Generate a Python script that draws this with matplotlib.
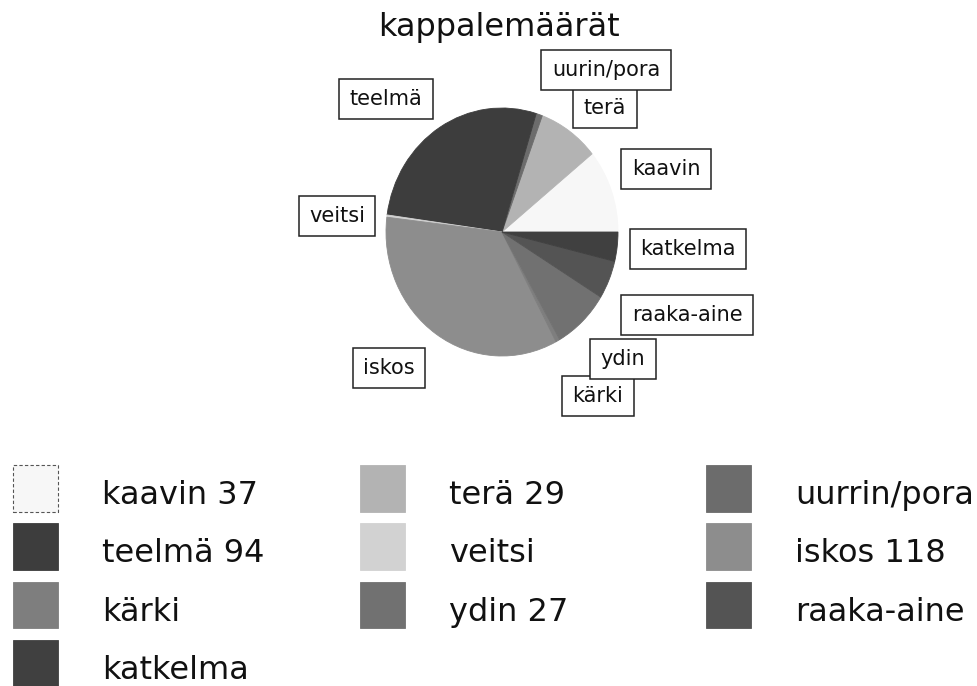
import matplotlib
matplotlib.use("Agg")
import matplotlib.pyplot as plt

# data: artefact counts, pie order counterclockwise from 3 o'clock
names = ["kaavin", "terä", "uurrin/pora", "teelmä", "veitsi",
         "iskos", "kärki", "ydin", "raaka-aine", "katkelma"]
counts = [37, 29, 3, 94, 1, 118, 2, 27, 17, 13]
legend_labels = ["kaavin 37", "terä 29", "uurrin/pora", "teelmä 94", "veitsi",
                 "iskos 118", "kärki", "ydin 27", "raaka-aine", "katkelma"]
# the boxed labels on the chart (one typo in the original kept)
box_labels = ["kaavin", "terä", "uurin/pora", "teelmä", "veitsi",
              "iskos", "kärki", "ydin", "raaka-aine", "katkelma"]
grays = ["#f7f7f7", "#b3b3b3", "#6c6c6c", "#3d3d3d", "#d2d2d2",
         "#8d8d8d", "#7e7e7e", "#717171", "#545454", "#404040"]

W, H = 978, 686
# label box centres in pixels (from top-left)
box_pos = [(666, 169), (605, 108), (606, 70), (386, 99), (337, 216),
           (389, 368), (598, 396), (623, 359), (687, 315), (688, 249)]

fig = plt.figure(figsize=(W / 100, H / 100), dpi=100)
fig.patch.set_facecolor("white")

cx, cy, rx, ry = 502, 232, 116, 124
ax = fig.add_axes([(cx - rx) / W, 1 - (cy + ry) / H, 2 * rx / W, 2 * ry / H])
wedges, _ = ax.pie(counts, colors=grays, startangle=0, counterclock=True,
                   wedgeprops=dict(linewidth=0.6))
for w in wedges:
    w.set_edgecolor(w.get_facecolor())
ax.set_aspect("auto")
ax.set_xlim(-1, 1)
ax.set_ylim(-1, 1)

fig.text(499 / W, 1 - 36 / H, "kappalemäärät", fontsize=23,
         ha="center", va="baseline", color="#111111")

for lab, (px, py) in zip(box_labels, box_pos):
    fig.text(px / W, 1 - py / H, lab, fontsize=15, ha="center", va="center",
             color="#111111",
             bbox=dict(boxstyle="square,pad=0.5", fc="white", ec="#222222", lw=1.1))

# legend in three columns, filled row by row like the original
col_x = [13, 360, 706]
for i in range(3):
    leg = fig.legend(wedges[i::3], legend_labels[i::3], loc="upper left",
                     bbox_to_anchor=(col_x[i] / W, 1 - 474 / H),
                     bbox_transform=fig.transFigure, frameon=False,
                     borderpad=0, borderaxespad=0, fontsize=23,
                     handlelength=1.4, handleheight=1.5, handletextpad=1.4,
                     labelspacing=0.61)
    for t in leg.get_texts():
        t.set_color("#111111")
    # make the swatches taller, close to the scanned squares
    for h in leg.legend_handles:
        h.set_y(-5.4)
        h.set_height(33.8)
    if i == 0:
        h0 = leg.legend_handles[0]
        h0.set_edgecolor("#555555")
        h0.set_linestyle((0, (3, 2)))
        h0.set_linewidth(0.8)

fig.savefig("out.png", dpi=100, facecolor="white")
